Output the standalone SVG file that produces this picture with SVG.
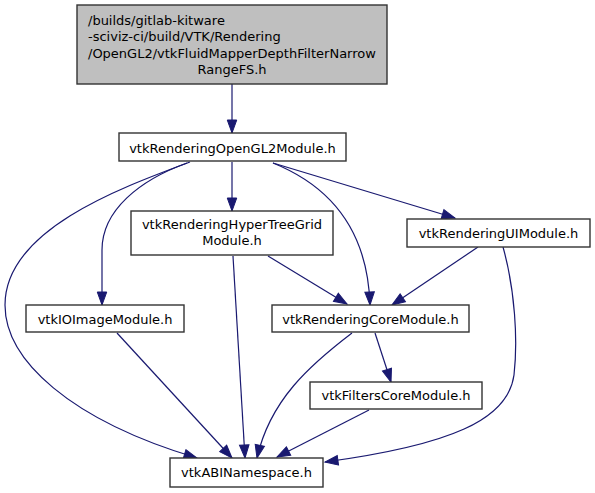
<svg xmlns="http://www.w3.org/2000/svg" width="595" height="493" viewBox="0 0 595 493">
<defs>
<style>
.node rect{fill:#ffffff;stroke:#333333;stroke-width:1.4}
.node.root rect{fill:#bfbfbf}
.node text{font-family:"DejaVu Sans",sans-serif;font-size:13px;fill:#000000}
.c{text-anchor:middle}
.edges path{fill:none;stroke:#191970;stroke-width:1.2;marker-end:url(#arr)}
</style>
<marker id="arr" markerUnits="userSpaceOnUse" markerWidth="14" markerHeight="11" refX="13" refY="4.75" orient="auto" overflow="visible">
<path d="M0,0 L13,4.75 L0,9.5 Z" fill="#191970" stroke="#191970" stroke-width="1"/>
</marker>
</defs>
<rect width="595" height="493" fill="#ffffff"/>
<g class="edges" id="edges">
<path d="M232,84 V133"/>
<path d="M232,162 V211"/>
<path d="M187,163 C140,180 102,210 102,250 L102,305"/>
<path d="M190,162 C120,188 5,230 5,305 C5,360 70,420 197,458"/>
<path d="M273,163 C340,190 368,240 370,305"/>
<path d="M273,163 L455,218"/>
<path d="M233,256 L245,458"/>
<path d="M117,333 L232,458"/>
<path d="M268,256 L347,304"/>
<path d="M478,247 L392,305"/>
<path d="M352,333 C310,365 270,400 257,458"/>
<path d="M375,333 L391,382"/>
<path d="M369,410 L277,457"/>
<path d="M503,247 C515,290 518,340 514,375 C508,420 450,445 325,462"/>
</g>
<g class="node root" id="node1">
<rect x="77" y="5" width="310" height="79"/>
<text x="88" y="24.5">/builds/gitlab-kitware</text>
<text x="88" y="41">-sciviz-ci/build/VTK/Rendering</text>
<text x="88" y="57.5">/OpenGL2/vtkFluidMapperDepthFilterNarrow</text>
<text x="232" y="74" class="c">RangeFS.h</text>
</g>
<g class="node" id="node2">
<rect x="119" y="133" width="227" height="28"/>
<text x="232.5" y="153" class="c">vtkRenderingOpenGL2Module.h</text>
</g>
<g class="node" id="node3">
<rect x="131" y="211" width="202" height="44"/>
<text x="232" y="228.5" class="c">vtkRenderingHyperTreeGrid</text>
<text x="232" y="245" class="c">Module.h</text>
</g>
<g class="node" id="node4">
<rect x="407" y="219" width="183" height="28"/>
<text x="498.5" y="238" class="c">vtkRenderingUIModule.h</text>
</g>
<g class="node" id="node5">
<rect x="26" y="305" width="158" height="27"/>
<text x="105" y="323.5" class="c">vtkIOImageModule.h</text>
</g>
<g class="node" id="node6">
<rect x="272" y="305" width="197" height="27"/>
<text x="370.5" y="323.5" class="c">vtkRenderingCoreModule.h</text>
</g>
<g class="node" id="node7">
<rect x="310" y="382" width="172" height="27"/>
<text x="396" y="399.5" class="c">vtkFiltersCoreModule.h</text>
</g>
<g class="node" id="node8">
<rect x="170" y="458" width="153" height="29"/>
<text x="246.5" y="477" class="c">vtkABINamespace.h</text>
</g>
</svg>
